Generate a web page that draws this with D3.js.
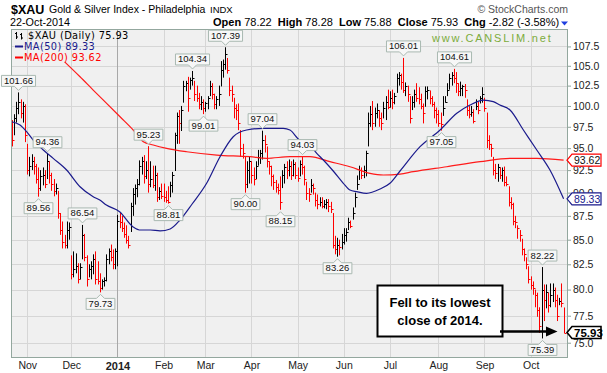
<!DOCTYPE html>
<html><head><meta charset="utf-8">
<script src="https://cdn.jsdelivr.net/npm/d3@7"></script>
<style>
body{margin:0;background:#fff}
svg{display:block;font-family:"Liberation Sans",Arial,sans-serif}
</style>
</head><body>
<svg id="c" width="607" height="373"></svg>
<script>
// ---- data (trading-day index 0 = 23-Oct-2013 ... 251 = 22-Oct-2014) ----
const closes = [
96.0,98.5,99.8,100.5,99.2,100.0,96.5,92.5,93.0,93.5,
93.0,91.5,90.5,91.8,92.0,91.0,93.5,92.0,91.0,90.2,
90.5,87.8,86.0,84.8,84.5,86.0,86.3,81.5,82.0,82.3,
81.0,82.2,85.5,83.2,81.0,82.0,82.3,83.0,81.0,80.8,
80.2,80.8,80.9,83.0,83.8,83.2,82.5,83.8,87.0,86.8,
86.2,85.6,85.0,84.5,88.5,89.8,90.5,91.0,93.0,93.5,
91.8,92.5,91.0,91.5,90.8,92.0,89.5,90.2,89.6,89.5,
89.2,89.0,90.8,92.0,96.5,98.8,98.0,99.5,102.5,102.8,
101.0,103.2,103.5,101.5,101.0,100.2,100.5,99.8,100.3,101.0,
102.5,101.5,100.2,100.8,101.5,104.5,105.2,106.5,104.5,102.0,
101.5,99.8,99.5,98.0,95.0,94.5,91.0,92.5,93.5,92.0,
91.5,93.0,94.0,94.5,96.0,95.5,93.5,93.0,91.8,91.2,
90.6,90.3,89.0,92.0,92.8,92.5,93.0,92.0,93.2,92.0,
91.6,93.2,92.8,91.5,90.0,89.8,90.8,90.5,89.2,88.8,
89.0,88.6,88.8,89.0,88.5,88.2,84.5,84.0,84.5,84.2,
84.8,85.5,85.8,86.8,86.4,87.8,89.5,91.0,92.5,92.0,
92.5,94.5,98.0,99.0,98.0,99.2,99.5,98.5,98.0,99.8,
100.5,99.9,101.0,100.5,101.2,103.5,103.8,103.0,102.0,102.5,
101.5,98.5,100.5,101.5,101.0,100.8,100.0,99.2,101.8,102.0,
101.0,100.2,99.5,99.0,98.0,97.8,99.8,100.5,102.0,103.5,
103.8,103.5,102.8,101.8,102.2,102.5,102.0,99.5,99.0,99.3,
98.2,100.0,99.5,101.0,101.5,99.8,96.0,95.5,95.0,92.5,
92.2,92.8,92.0,92.5,91.2,91.0,89.0,88.8,87.0,86.8,
86.2,85.5,84.0,83.5,82.5,81.0,80.4,80.2,79.5,78.0,
76.5,80.0,79.0,79.8,78.5,79.5,80.0,79.0,77.5,78.9,
78.75,75.93];
const highs = [
98.3,99.0,100.5,101.66,100.8,100.5,100.2,95.5,94.0,94.3,
94.0,93.2,92.8,92.5,92.8,92.5,94.36,93.5,92.2,91.5,
91.0,90.2,87.8,86.9,85.5,86.9,86.8,83.4,83.8,83.6,
82.6,82.6,86.54,85.6,83.4,82.5,82.8,83.5,83.8,82.8,
81.6,81.0,81.2,83.5,84.1,84.5,84.0,84.1,87.6,87.8,
87.5,86.8,86.5,85.4,88.9,90.5,90.9,91.5,93.6,94.0,
94.2,93.5,95.23,93.5,93.0,93.0,92.2,90.6,91.0,91.0,
90.2,90.7,91.2,92.3,96.8,99.2,99.5,100.0,103.1,103.1,
103.6,103.5,104.34,103.1,102.5,101.6,101.2,100.8,100.5,101.2,
103.1,102.8,101.5,101.2,102.5,105.6,105.8,107.39,106.0,103.5,
102.5,101.0,100.2,100.3,97.1,95.5,94.0,93.5,94.0,93.5,
92.8,93.5,94.8,94.8,97.04,96.5,95.2,93.5,93.0,92.0,
91.4,91.0,91.8,92.5,93.2,93.5,93.7,93.5,93.7,93.4,
92.8,93.6,94.03,93.0,91.2,90.5,91.5,91.0,90.0,89.8,
89.5,89.5,89.2,89.3,89.3,89.0,87.8,85.4,85.2,85.0,
85.6,86.2,86.2,87.3,87.0,88.4,90.0,91.9,93.0,92.8,
93.0,94.7,99.2,100.0,100.6,99.8,100.3,99.5,99.2,100.5,
101.2,102.0,101.8,102.0,101.6,104.0,104.2,104.0,106.01,102.9,
102.5,101.2,101.2,102.0,102.8,102.3,101.5,100.3,102.4,102.4,
101.9,101.2,100.5,99.8,99.5,99.2,101.2,101.2,102.8,104.0,
104.2,104.61,104.2,102.8,103.0,102.6,102.7,100.8,100.0,100.0,
99.6,100.8,100.5,101.2,102.3,101.0,99.2,96.5,95.5,94.0,
93.2,93.2,92.8,92.8,92.9,91.8,90.7,89.5,88.9,87.5,
86.5,86.0,85.1,84.1,83.2,82.3,81.3,80.8,80.0,79.7,
78.3,82.22,80.5,80.5,79.7,80.6,80.6,80.2,79.5,79.2,
80.6,78.28];
const lows = [
95.2,96.5,98.0,99.0,98.5,98.0,95.7,92.0,91.8,92.5,
92.0,91.0,89.56,90.2,90.8,90.5,91.5,91.0,90.2,89.6,
89.8,87.2,85.5,84.1,84.1,84.1,85.0,81.0,81.2,81.6,
80.6,81.0,83.0,82.8,80.3,81.2,81.0,81.5,80.5,80.5,
79.73,80.0,80.3,80.8,82.5,82.8,82.0,82.0,82.3,86.2,
85.8,85.2,84.6,84.1,85.8,87.5,88.7,89.5,90.8,92.0,
91.0,91.5,90.0,90.6,90.5,90.2,89.0,89.2,89.3,89.0,
88.9,88.81,89.5,90.0,92.4,95.5,95.5,97.0,100.4,101.8,
99.3,102.0,102.5,100.6,100.5,99.6,99.5,99.01,99.3,99.6,
101.2,100.8,99.6,99.6,100.0,102.4,103.5,104.5,104.0,101.2,
100.5,98.5,98.3,97.1,94.0,93.8,90.0,90.5,91.0,91.0,
90.8,91.5,93.0,93.2,93.7,94.5,92.8,92.0,90.7,90.3,
90.0,89.8,88.15,90.5,91.0,91.5,91.8,91.4,91.8,91.5,
91.2,91.8,92.0,90.8,89.2,89.0,90.0,89.8,88.5,88.2,
88.5,88.3,88.3,88.2,87.9,87.8,84.1,83.5,83.26,83.4,
84.0,84.5,84.8,86.0,86.2,87.1,88.4,90.3,91.4,91.5,
91.6,91.8,95.2,97.5,97.1,97.5,98.5,97.5,97.1,98.5,
98.3,99.6,99.8,99.6,100.2,101.6,102.5,102.0,101.6,101.2,
100.5,97.9,99.5,99.8,100.5,100.2,99.6,97.9,99.9,100.8,
100.2,99.9,98.5,97.9,97.5,97.05,98.8,100.4,101.2,102.0,
102.5,102.8,101.6,101.2,101.2,101.2,101.0,98.8,98.5,98.7,
97.9,99.5,99.0,100.3,100.4,99.3,95.0,94.8,94.0,91.9,
91.5,91.2,91.5,91.2,90.7,90.7,88.5,88.2,86.5,86.2,
85.1,84.8,83.4,82.8,82.0,80.6,80.0,79.5,78.3,77.4,
75.9,75.39,77.0,78.2,77.8,78.3,78.8,78.3,77.0,78.5,
78.3,75.88];

// moving averages (trading-day index, value)
const ma50Days   = [0,3.7,6.7,9.7,14.3,18.8,24.9,31,37,40,43,49,55,58,63,67.4,72,76.5,82,88.6,94.7,100.7,106.8,114.4,123.5,126.5,131,134,138.7,141.7,146.2,150.8,153.8,156.9,161.4,167.5,172,176.6,185.7,194.8,202.4,208.4,214.5,219,222,226.6,232.7,238.8,244.8,251];
const ma50Values = [98.10,97.71,96.92,95.94,94.79,93.83,92.51,90.65,89.56,89.20,88.66,87.94,86.35,86.01,86.01,85.91,86.11,87.06,88.77,91.03,94.02,96.33,97.12,97.32,97.32,97.12,95.94,95.75,94.41,93.64,92.40,91.03,90.29,90.11,89.93,90.40,91.03,92.40,95.17,97.12,99.11,100.11,100.72,100.52,100.11,99.51,97.12,94.79,92.51,89.33];
const ma200Days   = [24,31,37,43.1,49.2,55.2,59.8,64.3,70.4,79.5,93.2,108.3,115.9,126.5,135.6,144.7,153.8,162.9,169,176.6,182.6,197.8,213,226.6,238.8,251];
const ma200Values = [105.5,103.61,101.95,100.32,98.70,97.12,95.75,95.37,94.98,94.59,94.21,94.02,93.83,94.02,94.02,93.45,92.88,92.14,91.95,92.06,92.32,92.88,93.45,93.83,93.83,93.62];

const yTicks = [75,77.5,80,82.5,85,87.5,90,92.5,95,97.5,100,102.5,105,107.5];
const monthIdx    = [7,27,48,69,88,109,130,151,172,194,215,236];
const monthLabels = ["Nov","Dec","2014","Feb","Mar","Apr","May","Jun","Jul","Aug","Sep","Oct"];

const hiLabelIdx = [3,16,32,62,82,97,114,132,178,201,241];
const loLabelIdx = [12,40,71,87,106,122,148,195,241];

// ---- drawing ----
const svg = d3.select("#c");
const L=11, R=568, T=29, B=358;
const x = d3.scaleLinear().domain([-0.4,253.0]).range([L,R]);
const y = d3.scaleLog().domain([73.62,109.8]).range([B,T]);

svg.append("defs").append("clipPath").attr("id","pc")
  .append("rect").attr("x",L).attr("y",T).attr("width",R-L).attr("height",B-T);

svg.append("rect").attr("x",L).attr("y",T).attr("width",R-L).attr("height",B-T).attr("fill","#f0f0f0");

// grid
svg.append("g").selectAll("line").data(yTicks).join("line")
  .attr("x1",L).attr("x2",R).attr("y1",d=>Math.round(y(d))+0.5).attr("y2",d=>Math.round(y(d))+0.5)
  .attr("stroke","#d6d6d6").attr("stroke-width",1);
svg.append("g").selectAll("line").data(monthIdx).join("line")
  .attr("x1",d=>Math.round(x(d))+0.5).attr("x2",d=>Math.round(x(d))+0.5).attr("y1",T).attr("y2",B)
  .attr("stroke",(d,i)=>monthLabels[i]==="2014"?"#a8a8a8":"#d6d6d6").attr("stroke-width",1);

// axes
const yAxis = d3.axisRight(y).tickValues(yTicks).tickFormat(d3.format(".1f")).tickSize(3).tickPadding(2);
const ga = svg.append("g").attr("transform",`translate(${R},0)`).call(yAxis);
ga.select(".domain").remove();
ga.selectAll("line").attr("stroke","#8fa39a");
ga.selectAll("text").attr("font-family","Liberation Sans, Arial, sans-serif").attr("font-size",10.5).attr("fill","#222");

const xAxis = d3.axisBottom(x).tickValues(monthIdx).tickFormat((d,i)=>monthLabels[i]).tickSize(0).tickPadding(4);
const gx = svg.append("g").attr("transform",`translate(0,${B})`).call(xAxis);
gx.select(".domain").remove();
gx.selectAll("text").attr("font-family","Liberation Sans, Arial, sans-serif").attr("fill","#222")
  .attr("font-weight",(d,i)=>monthLabels[i]==="2014"?"bold":"normal").attr("font-size",(d,i)=>monthLabels[i]==="2014"?11:10.5);

// price bars
const bars = svg.append("g").attr("clip-path","url(#pc)");
closes.forEach((c,i)=>{
  const col = (i===0 || c<closes[i-1]) ? "#ff0000" : "#000000";
  const xi = Math.round(x(i))+0.5;
  bars.append("line").attr("x1",xi).attr("x2",xi).attr("y1",y(highs[i])).attr("y2",y(lows[i])).attr("stroke",col).attr("stroke-width",1);
  const yc = Math.round(y(c))+0.5;
  bars.append("line").attr("x1",xi).attr("x2",xi+2).attr("y1",yc).attr("y2",yc).attr("stroke",col).attr("stroke-width",1);
});

// moving averages
const mline = d3.line().curve(d3.curveMonotoneX).x(d=>x(d[0])).y(d=>y(d[1]));
svg.append("path").attr("clip-path","url(#pc)").attr("d",mline(ma200Days.map((d,i)=>[d,ma200Values[i]])))
  .attr("fill","none").attr("stroke","#ff1a1a").attr("stroke-width",1.2);
svg.append("path").attr("clip-path","url(#pc)").attr("d",mline(ma50Days.map((d,i)=>[d,ma50Values[i]])))
  .attr("fill","none").attr("stroke","#1a1a8c").attr("stroke-width",1.2);

// plot border
svg.append("rect").attr("x",L+0.5).attr("y",T+0.5).attr("width",R-L-1).attr("height",B-T-1)
  .attr("fill","none").attr("stroke","#93a79e").attr("stroke-width",1);

// high / low labels
const lg = svg.append("g");
function tagLabel(i, isHigh){
  const v = isHigh ? highs[i] : lows[i];
  const cx = Math.round(x(i))+0.5;
  const t = lg.append("text").text(v.toFixed(2)).attr("font-size",9.5).attr("text-anchor","middle").attr("fill","#111");
  const w = t.node().getComputedTextLength()+5, h=11;
  const l = cx-w/2, r = cx+w/2;
  let p, base;
  if(isHigh){
    const apex = y(v)-2, b = apex-4, top=b-h;
    p = `M${l},${top}H${r}V${b}H${cx+4}L${cx},${apex}L${cx-4},${b}H${l}Z`;
    base = b-2.5;
  } else {
    const apex = y(v)+2, top = apex+4, b=top+h;
    p = `M${l},${top}H${cx-4}L${cx},${apex}L${cx+4},${top}H${r}V${b}H${l}Z`;
    base = b-2.5;
  }
  lg.insert("path","text").attr("d",p).attr("fill","#f7f7f7").attr("stroke","#a9b9b1").attr("stroke-width",1);
  t.attr("x",cx).attr("y",base);
  lg.node().appendChild(t.node());
}
hiLabelIdx.forEach(i=>tagLabel(i,true));
loLabelIdx.forEach(i=>tagLabel(i,false));

// right value tags
function valueTag(v, stroke, txtCol, bold){
  const yc = y(v);
  const g = svg.append("g");
  g.append("path").attr("d",`M567,${yc}L572,${yc-6}H601V${yc+6}H572Z`)
    .attr("fill","#fff").attr("stroke",stroke).attr("stroke-width",bold?1.6:1.2);
  g.append("text").attr("x",574).attr("y",yc+4).text(v.toFixed(2))
    .attr("font-size",bold?11.5:10.5).attr("font-weight",bold?"bold":"normal").attr("fill",txtCol);
}
valueTag(ma200Values[ma200Values.length-1],"#ff0000","#111",false);
valueTag(ma50Values[ma50Values.length-1],"#1a1a8c","#1a1a8c",false);
valueTag(closes[closes.length-1],"#000","#000",true);

// annotation
svg.append("rect").attr("x",377.5).attr("y",285.5).attr("width",125).attr("height",51)
  .attr("fill","#fff").attr("stroke","#000").attr("stroke-width",2);
svg.append("text").attr("x",440).attr("y",307).attr("text-anchor","middle").attr("font-weight","bold").attr("font-size",13).text("Fell to its lowest");
svg.append("text").attr("x",440).attr("y",324.5).attr("text-anchor","middle").attr("font-weight","bold").attr("font-size",13).text("close of 2014.");
svg.append("line").attr("x1",500).attr("x2",548).attr("y1",331.5).attr("y2",331.5).attr("stroke","#000").attr("stroke-width",2.5);
svg.append("path").attr("d","M546,326.5L557.5,331.5L546,336.5Z").attr("fill","#000");

// legend
const leg = svg.append("g").attr("font-family","DejaVu Sans, Verdana, sans-serif").attr("font-size",9.8);
leg.append("path").attr("d","M16.5,32V39M15,33.5H16.5M16.5,37H18M21.5,33V39.5M20,34.5H21.5M21.5,38H23").attr("stroke","#000").attr("stroke-width",1).attr("fill","none");
leg.append("text").attr("x",28).attr("y",38.5).attr("letter-spacing",0.4).attr("fill","#000").text("$XAU (Daily) 75.93");
leg.append("line").attr("x1",15).attr("x2",23).attr("y1",46.5).attr("y2",46.5).attr("stroke","#1a1a8c").attr("stroke-width",2);
leg.append("text").attr("x",24).attr("y",49.5).attr("letter-spacing",0.4).attr("fill","#1a1a8c").text("MA(50) 89.33");
leg.append("line").attr("x1",15).attr("x2",23).attr("y1",57.5).attr("y2",57.5).attr("stroke","#ff0000").attr("stroke-width",2);
leg.append("text").attr("x",24).attr("y",60.5).attr("letter-spacing",0.4).attr("fill","#ff0000").text("MA(200) 93.62");

// header
svg.append("text").attr("x",11).attr("y",13.5).attr("font-weight","bold").attr("font-size",12.5).attr("fill","#000").text("$XAU");
svg.append("text").attr("x",49).attr("y",13).attr("font-size",10.5).attr("fill","#000").text("Gold & Silver Index - Philadelphia");
svg.append("text").attr("x",210).attr("y",13).attr("font-size",9.5).attr("fill","#000").text("INDX");
svg.append("text").attr("x",10).attr("y",26).attr("font-size",10.8).attr("fill","#000").text("22-Oct-2014");
const hd = svg.append("text").attr("x",213).attr("y",26).attr("font-size",11).attr("fill","#000");
[["Open",1],[" 78.22  ",0],["High",1],[" 78.28  ",0],["Low",1],[" 75.88  ",0],["Close",1],[" 75.93  ",0],["Chg",1],[" -2.82 (-3.58%)",0]]
  .forEach(([t,b])=>hd.append("tspan").attr("font-weight",b?"bold":"normal").attr("xml:space","preserve").text(t));
hd.attr("style","white-space:pre");
svg.append("path").attr("d","M561,21.5H568L564.5,25.5Z").attr("fill","#1f3fe0");
svg.append("text").attr("x",568).attr("y",13).attr("text-anchor","end").attr("font-size",10.5).attr("fill","#555").text("© StockCharts.com");
svg.append("text").attr("x",432).attr("y",42).attr("font-size",11).attr("letter-spacing",1.8).attr("fill","#7cac3c").text("www.CANSLIM.net");
</script>
</body></html>
